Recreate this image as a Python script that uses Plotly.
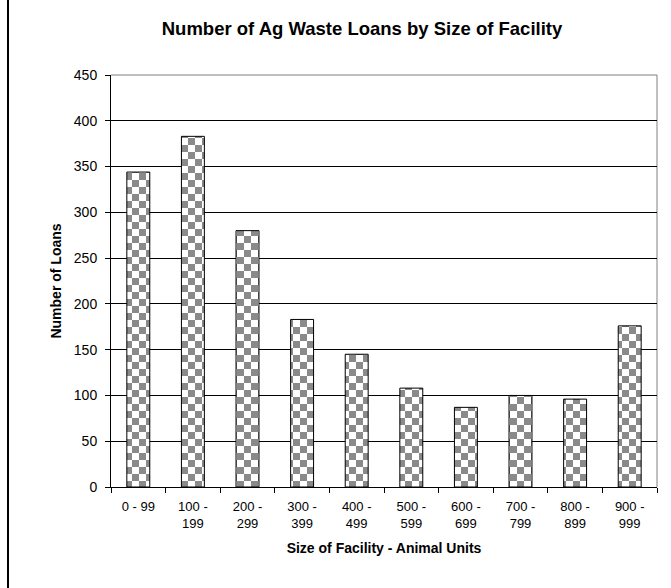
import plotly.graph_objects as go

categories = ["0 - 99", "100 -<br>199", "200 -<br>299", "300 -<br>399", "400 -<br>499",
              "500 -<br>599", "600 -<br>699", "700 -<br>799", "800 -<br>899", "900 -<br>999"]
loans = [344, 383, 280, 183, 145, 108, 87, 100, 96, 176]
y_ticks = [0, 50, 100, 150, 200, 250, 300, 350, 400, 450]

W, H = 671, 588
L, R, T, B = 111, 14, 75, 101
pw = W - L - R

font_family = "Liberation Sans, Arial, sans-serif"

fig = go.Figure()
fig.add_trace(go.Bar(
    x=categories, y=loans,
    marker=dict(
        color="#ffffff",
        line=dict(color="#000000", width=1),
        pattern=dict(shape=".", fgcolor="#8a8a8a", bgcolor="#ffffff", size=7, solidity=0.5),
    ),
    width=0.42,
    hoverinfo="x+y",
))

fig.update_layout(
    width=W, height=H,
    margin=dict(l=L, r=R, t=T, b=B, autoexpand=False),
    paper_bgcolor="#ffffff", plot_bgcolor="#ffffff",
    font=dict(family=font_family, color="#000000", size=13),
    showlegend=False,
    title=dict(
        text="<b>Number of Ag Waste Loans by Size of Facility</b>",
        font=dict(size=18.5, family=font_family, color="#000000"),
        x=(362 - L) / pw, xref="paper", xanchor="center",
        y=1 - 29 / H, yref="container", yanchor="middle",
    ),
    xaxis=dict(
        type="category",
        tickson="boundaries",
        ticks="outside", ticklen=5, tickcolor="#000000",
        showline=True, linecolor="#000000", linewidth=1,
        showgrid=False, zeroline=False,
        tickfont=dict(size=13),
        ticklabelstandoff=7,
        title=dict(text="<b>Size of Facility - Animal Units</b>", font=dict(size=14), standoff=13),
        automargin=False,
    ),
    yaxis=dict(
        range=[0, 450],
        tickvals=y_ticks,
        ticks="outside", ticklen=5, tickcolor="#000000",
        showline=True, linecolor="#000000", linewidth=1,
        showgrid=True, gridcolor="#000000", gridwidth=1,
        zeroline=False,
        tickfont=dict(size=14),
        ticklabelstandoff=5,
        title=dict(text="<b>Number of Loans</b>", font=dict(size=14), standoff=8),
        automargin=False,
    ),
    shapes=[
        dict(type="line", xref="paper", yref="paper", x0=0, x1=1, y0=1, y1=1,
             line=dict(color="#808080", width=1), layer="below"),
        dict(type="line", xref="paper", yref="paper", x0=1, x1=1, y0=0, y1=1,
             line=dict(color="#808080", width=1), layer="below"),
        dict(type="line", xref="paper", yref="paper",
             x0=(8 - L) / pw, x1=(8 - L) / pw, y0=-B / (H - T - B) - 0.01, y1=1 + T / (H - T - B) + 0.01,
             line=dict(color="#000000", width=2)),
    ],
)

post = """
var gd = document.getElementById('{plot_id}');
function checker(){
  var NS = 'http://www.w3.org/2000/svg';
  var pats = gd.querySelectorAll('pattern');
  pats.forEach(function(p){
    var s = 7;
    p.setAttribute('width', 2*s); p.setAttribute('height', 2*s);
    while(p.firstChild) p.removeChild(p.firstChild);
    function r(x,y,w,h,c){var e=document.createElementNS(NS,'rect');
      e.setAttribute('x',x);e.setAttribute('y',y);e.setAttribute('width',w);
      e.setAttribute('height',h);e.setAttribute('fill',c);p.appendChild(e);}
    r(0,0,2*s,2*s,'#ffffff'); r(0,0,s,s,'#8a8a8a'); r(s,s,s,s,'#8a8a8a');
  });
}
checker();
gd.on('plotly_afterplot', checker);
"""

fig.write_html("out.html", post_script=post)
